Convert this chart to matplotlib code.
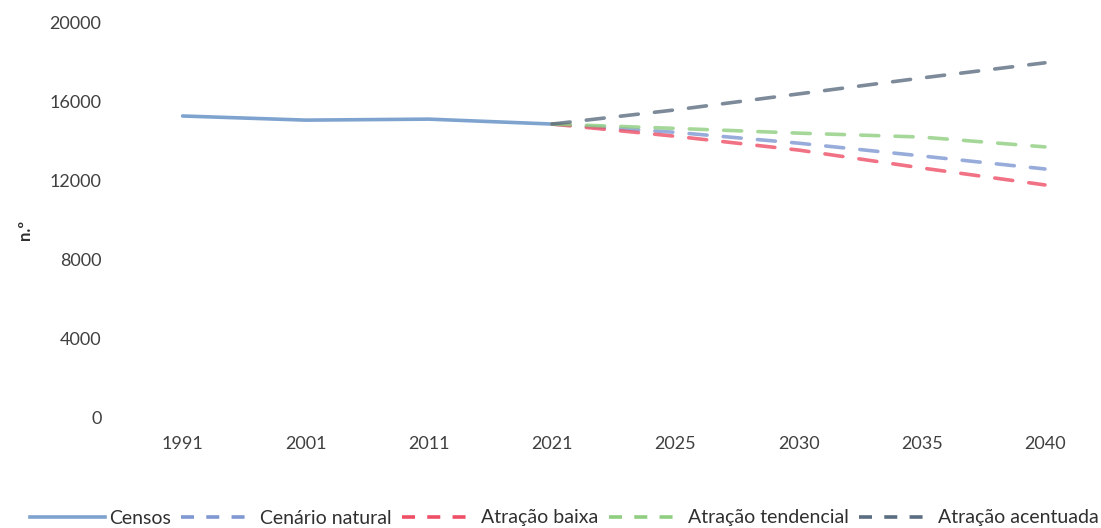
import matplotlib.pyplot as plt
from matplotlib.lines import Line2D

plt.rcParams['font.family'] = ['Lato', 'DejaVu Sans']

# Categorias do eixo x (anos)
anos = ['1991', '2001', '2011', '2021', '2025', '2030', '2035', '2040']

# Valores dos censos (1991-2021)
censos = [15280, 15070, 15120, 14870]

# Projeções (2021-2040), todas partem do valor de 2021
cenario_natural = [14870, 14450, 13900, 13250, 12590]
atracao_baixa = [14870, 14250, 13550, 12640, 11780]
atracao_tendencial = [14870, 14650, 14410, 14210, 13710]
atracao_acentuada = [14870, 15590, 16400, 17210, 17980]

cores = {
    'Censos': '#7fa3cf',
    'Cenário natural': '#7f98d2',
    'Atração baixa': '#ee4f66',
    'Atração tendencial': '#8fce80',
    'Atração acentuada': '#5b6d80',
}

fig = plt.figure(figsize=(11.01, 5.28), dpi=100)
ax = fig.add_axes([121 / 1101, 111 / 528, (1101 - 121) / 1101, 394 / 528])

x_censos = list(range(len(censos)))
x_proj = list(range(3, len(anos)))

ax.plot(x_censos, censos, color=cores['Censos'], lw=2.6, solid_capstyle='round')

series = [
    ('Cenário natural', cenario_natural),
    ('Atração baixa', atracao_baixa),
    ('Atração tendencial', atracao_tendencial),
    ('Atração acentuada', atracao_acentuada),
]
for nome, valores in series:
    ax.plot(x_proj, valores, color=cores[nome], lw=2.6, ls=(0, (5, 4.5)),
            alpha=0.8, dash_capstyle='round')

ax.set_xlim(-0.5, 7 + (1101 - 1045) / 123.1)
ax.set_ylim(0, 20000)
ax.set_yticks(range(0, 20001, 4000))
ax.set_xticks(range(len(anos)))
ax.set_xticklabels(anos)
ax.tick_params(axis='both', length=0, labelsize=13, colors='#404040')
ax.tick_params(axis='x', pad=14)
ax.tick_params(axis='y', pad=14)
for lado in ax.spines.values():
    lado.set_visible(False)

fig.text(25 / 1101, 1 - 230 / 528, 'n.º', rotation=90, fontsize=12,
         fontweight='bold', color='#303030', ha='center', va='center')

# Legenda
handles = [Line2D([], [], color=cores['Censos'], lw=2.6)]
for nome, _ in series:
    handles.append(Line2D([], [], color=cores[nome], lw=2.6, ls=(0, (3.6, 3.4))))
labels = ['Censos'] + [nome for nome, _ in series]
fig.legend(handles, labels, loc='center right', bbox_to_anchor=(1099 / 1101, 1 - 518 / 528),
           ncol=5, frameon=False, fontsize=14, handlelength=3.85, handletextpad=0.2,
           columnspacing=0.55, labelcolor='#303030', borderpad=0, borderaxespad=0)

fig.savefig('out.png', dpi=100)
